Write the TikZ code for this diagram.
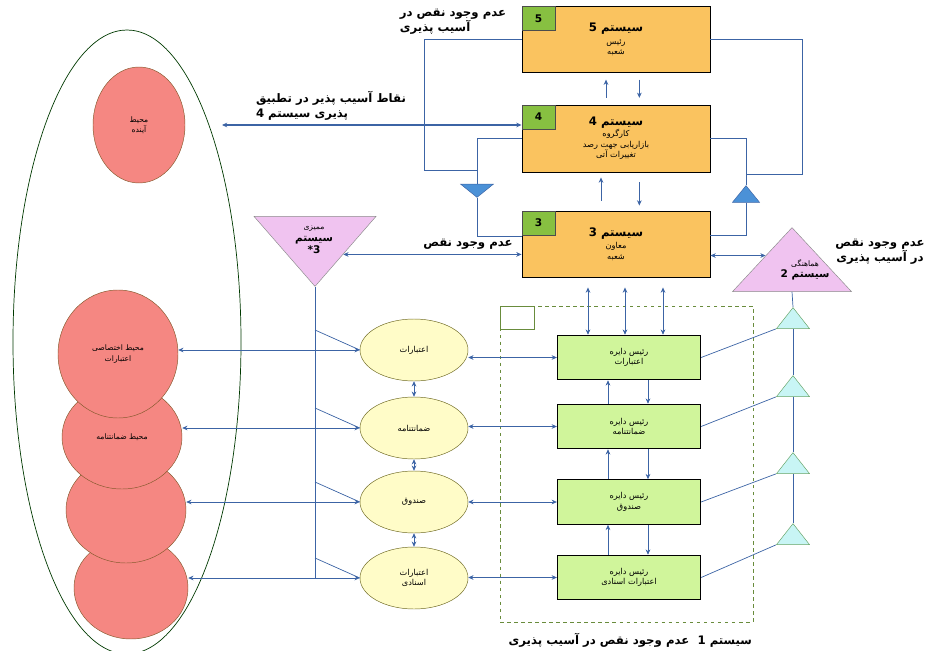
\documentclass[tikz,border=0pt]{standalone}
\usepackage{fontspec}
\newfontfamily\fa[Script=Arabic]{DejaVu Sans}
\TeXXeTstate=1
\usetikzlibrary{arrows.meta,positioning,shapes.geometric,calc}
\newcommand{\rl}[1]{\beginR#1\endR}
\definecolor{linkblue}{RGB}{60,100,165}
\definecolor{boxorange}{RGB}{250,195,95}
\definecolor{tabgreen}{RGB}{135,192,65}
\definecolor{boxgreen}{RGB}{208,245,155}
\definecolor{ovalyellow}{RGB}{255,252,200}
\definecolor{envred}{RGB}{245,135,130}
\definecolor{trpink}{RGB}{240,195,240}
\definecolor{trblue}{RGB}{75,145,215}
\definecolor{trcyan}{RGB}{200,245,245}
\definecolor{frameolive}{RGB}{105,140,60}
\begin{document}
\begin{tikzpicture}[x=0.3mm,y=-0.3mm,font=\fa,>={Stealth[length=4.5pt,width=4pt]},
sysbox/.style={draw=black,thick,fill=boxorange,minimum width=56.4mm,minimum height=19.8mm,align=center,inner sep=1pt,font=\fa\fontsize{7}{9}\selectfont},
tab/.style={draw=black!70,semithick,fill=tabgreen,minimum width=10mm,minimum height=7.2mm,anchor=north west,inner sep=0pt,font=\fa\bfseries\fontsize{9}{10}\selectfont},
unitbox/.style={draw=black,thick,fill=boxgreen,minimum width=43mm,minimum height=13.4mm,align=center,font=\fa\fontsize{7}{9}\selectfont},
oval/.style={ellipse,draw=olive!70!black,fill=ovalyellow,minimum width=32.4mm,minimum height=18.6mm,inner sep=0pt,align=center,font=\fa\fontsize{7}{9}\selectfont},
env/.style={ellipse,draw=brown!70!black,fill=envred,inner sep=0pt,align=center,font=\fa\fontsize{6.5}{9}\selectfont},
tri/.style={isosceles triangle,isosceles triangle stretches,inner sep=0pt},
link/.style={linkblue,semithick},
arr/.style={link,<->},
lbl/.style={font=\fa\bfseries\fontsize{10}{12.5}\selectfont,align=left,inner sep=1pt}]
\useasboundingbox (0,0) rectangle (931,651);

% environment
\draw[black!55!green!50!black,semithick] (127,342) ellipse [x radius=114,y radius=312];
\node[env,minimum width=27.6mm,minimum height=34.8mm] (r0) at (139,125) {\rl{محیط}\\\rl{آینده}};
\node[env,minimum width=34.2mm,minimum height=30.6mm] (r4) at (131,588) {};
\node[env,minimum width=36mm,minimum height=31.8mm] (r3) at (126,510) {};
\node[env,minimum width=36mm,minimum height=31.2mm] (r2) at (122,437) {\rl{محیط ضمانتنامه}};
\node[env,minimum width=36mm,minimum height=38.4mm] (r1) at (118,354) {\rl{محیط اختصاصی}\\\rl{اعتبارات}};

% systems 5, 4, 3
\node[sysbox] (b5) at (616,39.5) {{\bfseries\fontsize{10}{12}\selectfont\rl{سیستم 5}}\\[2pt]\rl{رئیس}\\\rl{شعبه}};
\node[sysbox,minimum height=20.1mm] (b4) at (616,138.5) {{\bfseries\fontsize{10}{12}\selectfont\rl{سیستم 4}}\\\rl{کارگروه}\\\rl{بازاریابی جهت رصد}\\\rl{تغییرات آتی}};
\node[sysbox] (b3) at (616,244) {{\bfseries\fontsize{10}{12}\selectfont\rl{سیستم 3}}\\[2pt]\rl{معاون}\\\rl{شعبه}};
\node[tab] (t5) at (b5.north west) {5};
\node[tab] (t4) at (b4.north west) {4};
\node[tab] (t3) at (b3.north west) {3};
\draw[link,->,shorten <=2mm,shorten >=2mm] ([xshift=-3mm]b4.north) -- ([xshift=-3mm]b5.south);
\draw[link,->,shorten <=2mm,shorten >=2mm] ([xshift=7mm]b5.south) -- ([xshift=7mm]b4.north);
\draw[link,->,shorten <=3mm,shorten >=1.5mm] ([xshift=-4.5mm]b3.north) -- ([xshift=-4.5mm]b4.south);
\draw[link,->,shorten <=3mm,shorten >=1.5mm] ([xshift=7mm]b4.south) -- ([xshift=7mm]b3.north);

% monitoring loops
\node[tri,shape border rotate=270,fill=trblue,draw=linkblue,minimum width=9.9mm,minimum height=4mm,anchor=apex] (trL) at (477,198) {};
\node[tri,shape border rotate=90,fill=trblue,draw=linkblue,minimum width=8.1mm,minimum height=5mm,anchor=apex] (trR) at (746,185) {};
\draw[link] (b5.west) -- ++(-97,0) -- ++(0,130.5) -- ++(52,0);
\draw[link] (b4.west) -| (trL.north);
\draw[link] (trL.apex) |- ([yshift=2.4mm]b3.west);
\draw[link] (b5.east) -- ++(92,0) -- ++(0,134.5) -- ++(-56,0);
\draw[link] (b4.east) -| (trR.apex);
\draw[link] (trR.lower side) |- ([yshift=2.7mm]b3.east);

% labels at the top
\node[lbl] (l5) at (453,22) {\rl{عدم وجود نقص در}\\\rl{آسیب پذیری}};
\node[lbl] (l4) at (331,106) {\rl{نقاط آسیب پذیر در تطبیق}\\\rl{پذیری سیستم 4}};
\coordinate (fut) at (222,125);
\draw[arr,line width=1.1pt] (fut) -- (b4.west |- fut);

% system 3* and system 2
\node[tri,shape border rotate=270,fill=trpink,draw=black!45,minimum width=36.6mm,minimum height=21mm,anchor=apex] (tr3) at (315,287) {};
\node[align=center,font=\fa\bfseries\fontsize{9}{10}\selectfont] (tx3) at (314,240) {{\mdseries\fontsize{6.5}{8}\selectfont\rl{ممیزی}}\\\rl{سیستم}\\3*};
\node[lbl] (l3) at (468,244) {\rl{عدم وجود نقص}};
\coordinate (p3) at ($(tr3.apex)!0.46!(tr3.left corner)$);
\draw[arr] (p3) -- (p3 -| b3.west);
\node[tri,shape border rotate=90,fill=trpink,draw=black!45,minimum width=35.7mm,minimum height=19.2mm,anchor=apex] (tr2) at (792,227) {};
\node[align=center,font=\fa\bfseries\fontsize{9}{10}\selectfont] (tx2) at (805,270) {{\mdseries\fontsize{6.5}{8}\selectfont\rl{هماهنگی}}\\\rl{سیستم 2}};
\node[lbl,align=center] (l2) at (880,252) {\rl{عدم وجود نقص}\\\rl{در آسیب پذیری}};
\coordinate (p2) at ($(tr2.apex)!0.44!(tr2.left corner)$);
\draw[arr] (p2 -| b3.east) -- (p2);

% system 1
\node[draw=frameolive,dashed,semithick,minimum width=75.9mm,minimum height=94.8mm,inner sep=0pt] (sys1) at (626.5,464) {};
\node[draw=frameolive,semithick,minimum width=10.2mm,minimum height=6.9mm,anchor=north west,inner sep=0pt] (sq) at (sys1.north west) {};
\node[lbl,anchor=north east] (l1) at ([yshift=-3mm]sys1.south east) {\rl{سیستم 1 \ عدم وجود نقص در آسیب پذیری}};

\node[oval] (e1) at (414,350) {\rl{اعتبارات}};
\node[oval] (e2) at (414,428) {\rl{ضمانتنامه}};
\node[oval] (e3) at (414,502) {\rl{صندوق}};
\node[oval] (e4) at (414,578) {\rl{اعتبارات}\\\rl{اسنادی}};
\node[unitbox] (g1) at (629,357.5) {\rl{رئیس دایره}\\\rl{اعتبارات}};
\node[unitbox] (g2) at (629,426.5) {\rl{رئیس دایره}\\\rl{ضمانتنامه}};
\node[unitbox] (g3) at (629,502) {\rl{رئیس دایره}\\\rl{صندوق}};
\node[unitbox] (g4) at (629,577.5) {\rl{رئیس دایره}\\\rl{اعتبارات اسنادی}};

\foreach \dx [count=\i] in {-28,9,47}{
  \coordinate (q\i) at ($(b3.south)+(\dx,10)$);
  \draw[arr] (q\i) -- (q\i |- g1.north);
}
\foreach \a/\b in {g1/g2,g2/g3,g3/g4}{
  \draw[link,->] ([xshift=-6.3mm]\b.north) -- ([xshift=-6.3mm]\a.south);
  \draw[link,->] ([xshift=5.7mm]\a.south) -- ([xshift=5.7mm]\b.north);
}
\foreach \a/\b in {e1/e2,e2/e3,e3/e4}
  \draw[arr] (\a.south) -- (\b.north);

% audit line and environments
\draw[link] (tr3.apex) -- (tr3.apex |- e4.west);
\foreach \i in {1,...,4}{
  \draw[link] ($(tr3.apex |- e\i.west)+(0,-20)$) -- (e\i.west);
  \draw[arr] (r\i.east |- e\i.west) -- (e\i.west);
  \draw[arr] (e\i.east |- g\i.west) -- (g\i.west);
}

% coordination
\foreach \y [count=\i] in {307,375,452,523}
  \node[tri,shape border rotate=90,fill=trcyan,draw=green!40!black!60,minimum width=9.9mm,minimum height=6.3mm,anchor=apex] (k\i) at (793,\y) {};
\draw[link] (tr2.lower side) -- (k1.apex);
\foreach \a/\b in {k1/k2,k2/k3,k3/k4}
  \draw[link] (\a.lower side) -- (\b.apex);
\foreach \i in {1,...,4}
  \draw[link] (g\i.east) -- (k\i.left corner);
\end{tikzpicture}
\end{document}
